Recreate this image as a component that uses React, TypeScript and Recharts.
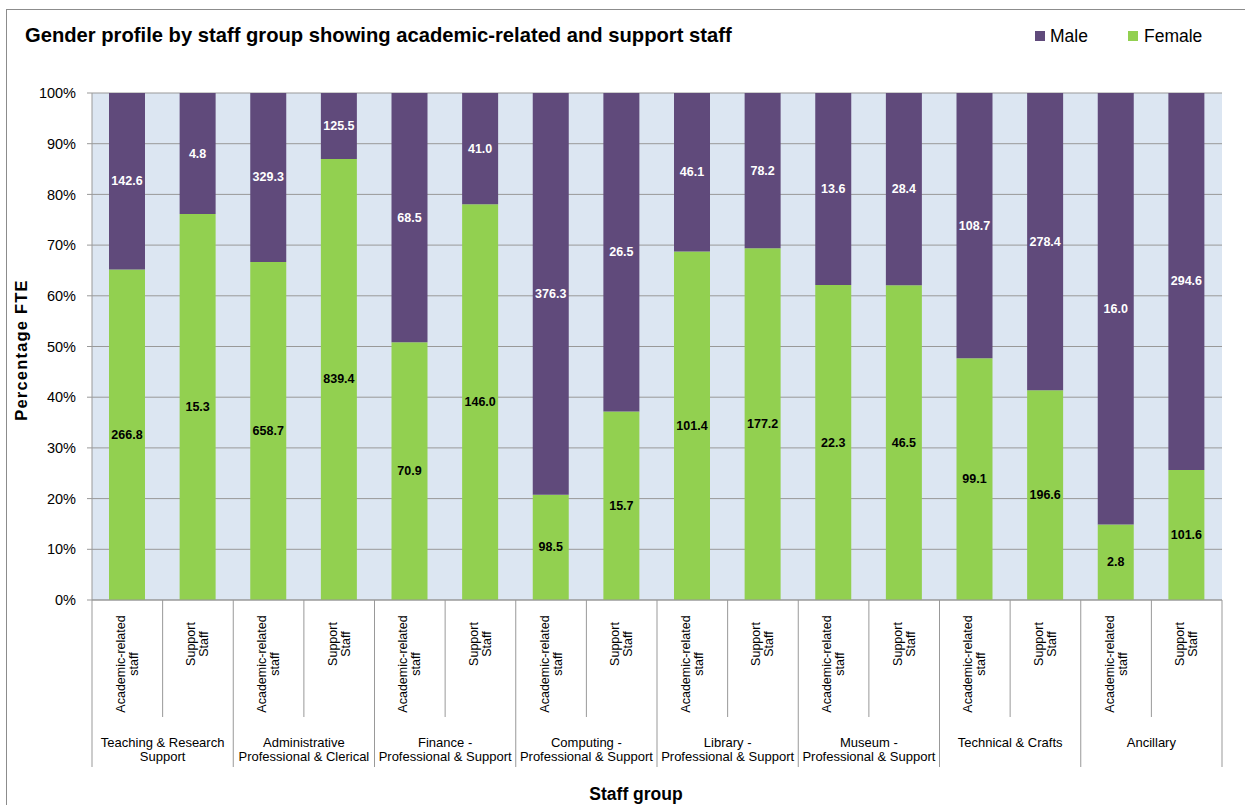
import React from 'react';
import { BarChart, Bar, XAxis, YAxis, CartesianGrid, LabelList, Legend } from 'recharts';

const groups = [
  ['Teaching & Research', 'Support'],
  ['Administrative', 'Professional & Clerical'],
  ['Finance -', 'Professional & Support'],
  ['Computing -', 'Professional & Support'],
  ['Library  -', 'Professional & Support'],
  ['Museum -', 'Professional & Support'],
  ['Technical & Crafts'],
  ['Ancillary'],
];
const subTypes = [
  ['Academic-related', 'staff'],
  ['Support', 'Staff'],
];
const femaleFTE = [266.8, 15.3, 658.7, 839.4, 70.9, 146.0, 98.5, 15.7, 101.4, 177.2, 22.3, 46.5, 99.1, 196.6, 2.8, 101.6];
const maleFTE = [142.6, 4.8, 329.3, 125.5, 68.5, 41.0, 376.3, 26.5, 46.1, 78.2, 13.6, 28.4, 108.7, 278.4, 16.0, 294.6];
const yTicks = [0, 0.1, 0.2, 0.3, 0.4, 0.5, 0.6, 0.7, 0.8, 0.9, 1];

const TITLE = 'Gender profile by staff group showing academic-related and support staff';
const FONT = '"Liberation Sans", Arial, sans-serif';
const MALE_C = '#604A7B';
const FEMALE_C = '#92D050';
const GRID_C = '#999999';

const W = 1245;
const H = 805;
const M_TOP = 93;
const M_RIGHT = 23;
const Y_W = 92;
const X_H = 205;
const PLOT_L = Y_W;
const PLOT_R = W - M_RIGHT;
const BASE = H - X_H;
const BAND = (PLOT_R - PLOT_L) / femaleFTE.length;

const data = femaleFTE.map((f, i) => ({
  key: `c${i}`,
  female: f,
  male: maleFTE[i],
}));

const XTick = (props: any) => {
  const { x } = props;
  const i = props.payload?.index ?? props.index;
  const sub = subTypes[i % 2];
  const cy = i % 2 === 0 ? 664 : 644;
  const left = x - BAND / 2;
  const right = x + BAND / 2;
  const els: any[] = [];
  sub.forEach((line, li) => {
    const lx = x + (li === 0 ? -6.5 : 6.5);
    els.push(
      <text
        key={`t${li}`}
        x={lx}
        y={cy}
        transform={`rotate(-90, ${lx}, ${cy})`}
        textAnchor="middle"
        dominantBaseline="central"
        fontFamily={FONT}
        fontSize={12.5}
        fill="#000"
      >
        {line}
      </text>
    );
  });
  if (i % 2 === 0) {
    els.push(<line key="gl" x1={left} x2={left} y1={BASE} y2={767} stroke={GRID_C} strokeWidth={1} />);
    const g = groups[i / 2];
    g.forEach((line, li) => {
      els.push(
        <text
          key={`g${li}`}
          x={right}
          y={742 + li * 14}
          textAnchor="middle"
          dominantBaseline="central"
          fontFamily={FONT}
          fontSize={13}
          fill="#000"
        >
          {line}
        </text>
      );
    });
  } else {
    els.push(<line key="sl" x1={left} x2={left} y1={BASE} y2={717} stroke={GRID_C} strokeWidth={1} />);
    if (i === femaleFTE.length - 1) {
      els.push(<line key="rl" x1={right} x2={right} y1={BASE} y2={767} stroke={GRID_C} strokeWidth={1} />);
    }
  }
  return <g>{els}</g>;
};

const makeLabel = (vals: number[], color: string) => (props: any) => {
  const vb = props.viewBox && props.viewBox.width !== undefined ? props.viewBox : props;
  const { x, y, width, height } = vb;
  const idx = props.index;
  const v = vals[idx];
  if (v === undefined) return null;
  return (
    <text
      x={x + width / 2}
      y={y + height / 2}
      textAnchor="middle"
      dominantBaseline="central"
      fontFamily={FONT}
      fontSize={12.5}
      fontWeight="bold"
      fill={color}
    >
      {v.toFixed(1)}
    </text>
  );
};

const YLabel = () => (
  <text
    x={21}
    y={350}
    transform="rotate(-90, 21, 350)"
    textAnchor="middle"
    dominantBaseline="central"
    fontFamily={FONT}
    fontSize={16.5}
    fontWeight="bold"
    letterSpacing={1.2}
    fill="#000"
  >
    Percentage FTE
  </text>
);

const XLabel = () => (
  <text
    x={636}
    y={794}
    textAnchor="middle"
    dominantBaseline="central"
    fontFamily={FONT}
    fontSize={17.5}
    fontWeight="bold"
    fill="#000"
  >
    Staff group
  </text>
);

const LegendContent = () => (
  <div style={{ position: 'relative', width: 210, height: 26, fontFamily: FONT, fontSize: 17.5, color: '#000' }}>
    <span style={{ position: 'absolute', left: 5, top: 7, width: 10, height: 10, background: MALE_C }} />
    <span style={{ position: 'absolute', left: 20, top: 0, lineHeight: '24px' }}>Male</span>
    <span style={{ position: 'absolute', left: 98, top: 7, width: 10, height: 10, background: FEMALE_C }} />
    <span style={{ position: 'absolute', left: 114, top: 0, lineHeight: '24px' }}>Female</span>
  </div>
);

export default function App() {
  return (
    <div style={{ position: 'absolute', left: 0, top: 0, width: W, height: H, overflow: 'hidden', background: '#fff' }}>
      <div
        style={{
          position: 'absolute',
          left: 6,
          top: 9,
          width: 1300,
          height: 900,
          border: '1px solid #8c8c8c',
        }}
      />
      <div
        style={{
          position: 'absolute',
          left: 25,
          top: 22,
          fontFamily: FONT,
          fontSize: 20.2,
          fontWeight: 'bold',
          lineHeight: '26px',
          color: '#000',
          whiteSpace: 'nowrap',
        }}
      >
        {TITLE}
      </div>
      <div style={{ position: 'absolute', left: 0, top: 0 }}>
        <BarChart
          width={W}
          height={H}
          data={data}
          stackOffset="expand"
          barSize={36}
          margin={{ top: M_TOP, right: M_RIGHT, bottom: 0, left: 0 }}
        >
          <CartesianGrid vertical={false} horizontal={true} stroke={GRID_C} fill="#DCE6F2" />
          <XAxis
            dataKey="key"
            interval={0}
            height={X_H}
            tickLine={false}
            axisLine={{ stroke: GRID_C }}
            tick={<XTick />}
            label={<XLabel />}
          />
          <YAxis
            width={Y_W}
            domain={[0, 1]}
            ticks={yTicks}
            tickFormatter={(v: number) => `${Math.round(v * 100)}%`}
            tickSize={5}
            tickMargin={11}
            axisLine={{ stroke: GRID_C }}
            tickLine={{ stroke: GRID_C }}
            tick={{ fontFamily: FONT, fontSize: 14.5, fill: '#000' }}
            label={<YLabel />}
          />
          <Legend
            layout="horizontal"
            verticalAlign="middle"
            align="center"
            content={<LegendContent />}
            wrapperStyle={{ position: 'absolute', left: 1030, top: 24, width: 210, height: 26 }}
          />
          <Bar dataKey="female" stackId="s" fill={FEMALE_C} isAnimationActive={false}>
            <LabelList dataKey="female" content={makeLabel(femaleFTE, '#000')} />
          </Bar>
          <Bar dataKey="male" stackId="s" fill={MALE_C} isAnimationActive={false}>
            <LabelList dataKey="male" content={makeLabel(maleFTE, '#fff')} />
          </Bar>
        </BarChart>
      </div>
    </div>
  );
}
